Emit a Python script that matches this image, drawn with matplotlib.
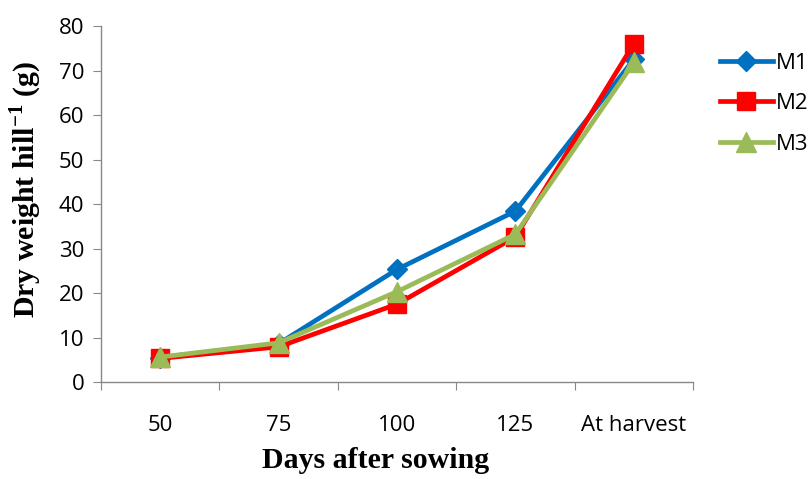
import numpy as np
import matplotlib
matplotlib.use("Agg")
import matplotlib.pyplot as plt

# dry weight per hill (g) at each sampling stage
stages = ["50", "75", "100", "125", "At harvest"]
m1 = [5.5, 8.6, 25.3, 38.4, 72.5]
m2 = [5.3, 7.9, 17.5, 32.6, 76.0]
m3 = [5.6, 8.8, 20.3, 33.2, 71.8]

plt.rcParams["mathtext.fontset"] = "custom"
plt.rcParams["mathtext.rm"] = "Liberation Serif:bold"
plt.rcParams["mathtext.bf"] = "Liberation Serif:bold"

fig = plt.figure(figsize=(8.11, 4.79), dpi=100)
ax = fig.add_axes([0.1245, 0.2025, 0.73, 0.7432])

x = np.arange(len(stages))
ax.plot(x, m1, color="#0070C0", lw=3.4, marker="D", ms=10, label="M1", zorder=3)
ax.plot(x, m2, color="#FF0000", lw=3.4, marker="s", ms=13, label="M2", zorder=4)
ax.plot(x, m3, color="#9BBB59", lw=3.4, marker="^", ms=14, label="M3", zorder=5)

ax.set_xlim(-0.5, len(stages) - 0.5)
ax.set_ylim(0, 80)
ax.set_yticks(np.arange(0, 81, 10))
ax.set_xticks(np.arange(-0.5, len(stages), 1.0))
ax.set_xticklabels([])
ax.set_xticks(x, minor=True)
ax.set_xticklabels(stages, minor=True)

tick_font = dict(family="Open Sans", size=16)
for lab in ax.get_yticklabels() + ax.get_xticklabels(minor=True):
    lab.set_fontfamily("Open Sans")
    lab.set_fontsize(16)

ax.tick_params(axis="x", which="major", length=6, color="#888888", direction="out")
ax.tick_params(axis="x", which="minor", length=0, pad=24)
ax.tick_params(axis="y", length=6, color="#888888", pad=6)

for side in ["top", "right"]:
    ax.spines[side].set_visible(False)
for side in ["left", "bottom"]:
    ax.spines[side].set_color("#888888")
    ax.spines[side].set_linewidth(1.0)

ax.set_xlabel("Days after sowing", family="Liberation Serif", weight="bold",
              fontsize=21.5, labelpad=8)
ax.set_ylabel(r"Dry weight hill$^{\mathbf{-1}}$ (g)", family="Liberation Serif",
              weight="bold", fontsize=21.5, labelpad=11)
ax.xaxis.label.set_x(0.463)
ax.yaxis.label.set_y(0.54)

leg = ax.legend(loc="upper left", bbox_to_anchor=(1.03, 0.95), frameon=False,
                prop=tick_font, handlelength=2.4, labelspacing=0.88,
                handletextpad=0.15, borderaxespad=0)

fig.savefig("out.png", dpi=100)
